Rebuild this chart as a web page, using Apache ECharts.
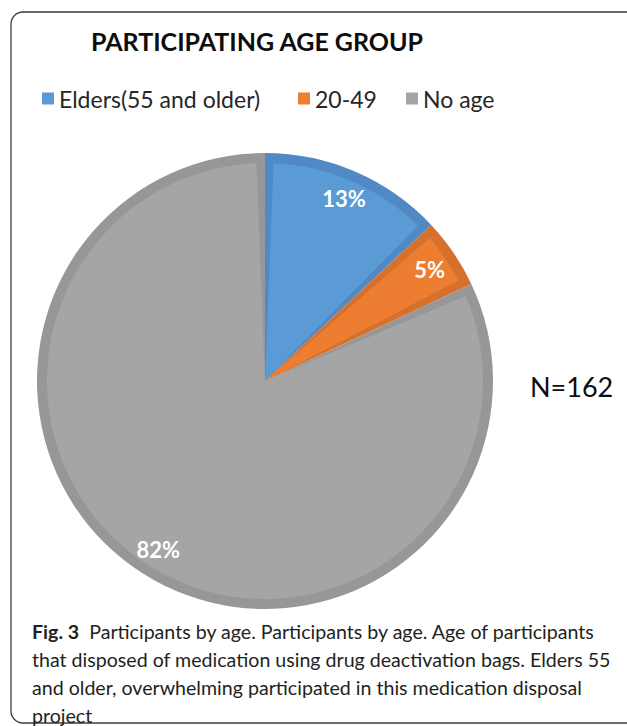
<!DOCTYPE html>
<html><head><meta charset="utf-8">
<script src="https://cdn.jsdelivr.net/npm/echarts@6/dist/echarts.min.js"></script>
<style>html,body{margin:0;padding:0;background:#fff}#c{width:627px;height:726px}</style>
</head><body><div id="c"></div>
<script>
const categories = ['Elders(55 and older)', '20-49', 'No age'];
const percents = [13, 5, 82];
const fillColors = ['#5b9bd5', '#ed7d31', '#a5a5a5'];
const edgeColors = ['#5089c4', '#d5712d', '#979797'];
const titleText = 'PARTICIPATING AGE GROUP';
const sampleNote = 'N=162';
const captionBold = 'Fig. 3';
const captionLines = [
  '  Participants by age. Participants by age. Age of participants',
  'that disposed of medication using drug deactivation bags. Elders 55',
  'and older, overwhelming participated in this medication disposal',
  'project'
];

const FONT = 'Lato, "Open Sans", sans-serif';
const C = [265, 381];
const R = 228;
const legendLefts = [42, 298, 406];

function items(colors) {
  return categories.map((n, i) => ({ name: n, value: percents[i], itemStyle: { color: colors[i] } }));
}
const base = {
  type: 'pie', center: C, startAngle: 90, clockwise: true,
  avoidLabelOverlap: false, silent: true, animation: false,
  emphasis: { disabled: true }, labelLine: { show: false }
};

const chart = echarts.init(document.getElementById('c'), null, { renderer: 'svg' });
chart.setOption({
  backgroundColor: '#ffffff',
  legend: categories.map((n, i) => ({
    left: legendLefts[i], top: 87, padding: 0,
    icon: 'rect', itemWidth: 12, itemHeight: 12,
    itemStyle: { borderWidth: 0 },
    textStyle: { fontFamily: FONT, fontSize: 23, color: '#262626' },
    data: [{ name: n, itemStyle: { color: fillColors[i] } }]
  })),
  series: [
    Object.assign({}, base, { name: 'edge', radius: R, label: { show: false }, data: items(edgeColors) }),
    Object.assign({}, base, { name: 'fill', radius: R - 10, padAngle: 4.5,
      itemStyle: { borderWidth: 3, borderColor: 'transparent' },
      label: { show: false }, data: items(fillColors) }),
    Object.assign({}, base, { name: 'labels', radius: [R - 64, R],
      itemStyle: { color: 'transparent' },
      label: { show: true, position: 'inside', formatter: '{c}%', color: '#ffffff',
        fontFamily: FONT, fontWeight: 'bold', fontSize: 22 },
      data: categories.map((n, i) => ({ name: n, value: percents[i] })) })
  ],
  graphic: [
    { type: 'rect', z: -1, silent: true,
      shape: { x: 11, y: 12, width: 700, height: 711, r: 12 },
      style: { fill: 'none', stroke: '#3c3c3c', lineWidth: 1.3 } },
    { type: 'text', left: 91, top: 28, silent: true,
      style: { text: titleText, font: 'bold 25px ' + FONT, fill: '#0d0d0d' } },
    { type: 'text', left: 530, top: 373, silent: true,
      style: { text: sampleNote, font: '27px ' + FONT, fill: '#0d0d0d' } },
    { type: 'text', left: 32, top: 617, silent: true,
      style: {
        text: '{b|' + captionBold + '}' + captionLines.join('\n'),
        font: '19.6px ' + FONT, fill: '#231f20', lineHeight: 28,
        rich: { b: { fontWeight: 'bold', fontSize: 19.6, fontFamily: FONT, lineHeight: 28 } }
      } }
  ]
});
</script></body></html>
